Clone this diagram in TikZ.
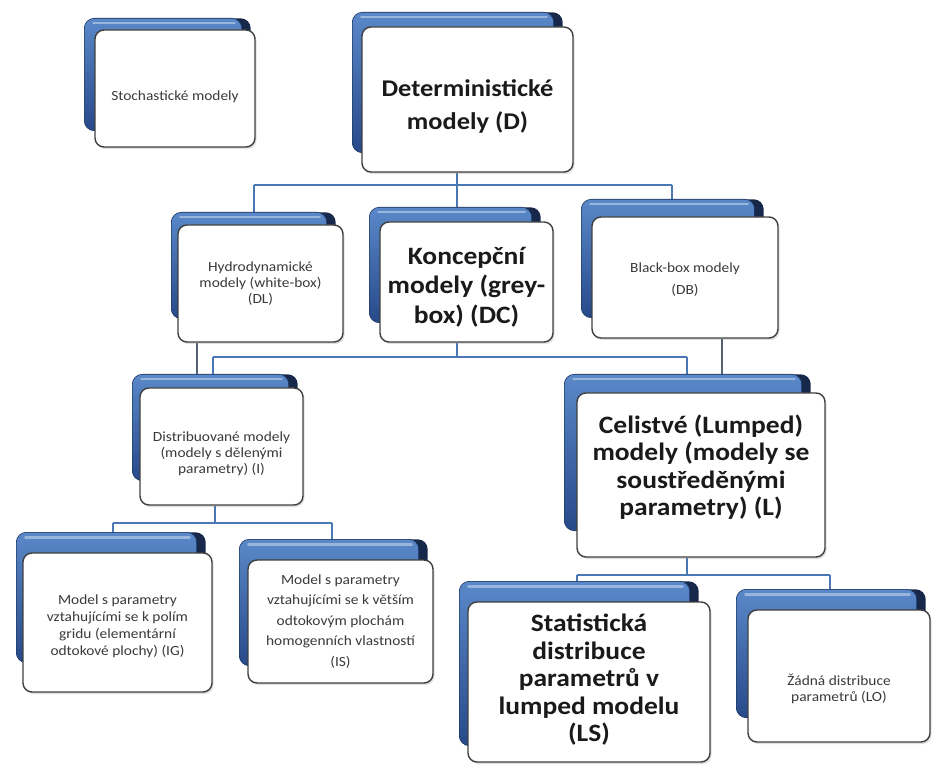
\documentclass[tikz,border=0pt]{standalone}
\usepackage{fontspec}
\setmainfont{Carlito}[FakeStretch=1.1]
\usetikzlibrary{shadows}

\pgfdeclarelayer{wires}
\pgfdeclarelayer{panels}
\pgfsetlayers{wires,panels,main}

\definecolor{panelhi}{HTML}{5A88C8}
\definecolor{panello}{HTML}{27498A}
\definecolor{paneldark}{HTML}{17284A}
\definecolor{paneledge}{HTML}{1E3A66}
\definecolor{wire}{HTML}{4A78B5}
\definecolor{wiregray}{HTML}{566272}
\definecolor{frameline}{HTML}{3F3F3F}
\definecolor{smalltext}{HTML}{3A3A3A}
\definecolor{bigtext}{HTML}{1A1A1A}

\tikzset{
  card/.style={draw=frameline, line width=1.4pt, fill=white, rounded corners=9pt,
    inner sep=0pt,
    drop shadow={shadow xshift=1.5pt, shadow yshift=-2pt, opacity=0.25}},
  small/.style={align=center, inner sep=0pt, font=\fontsize{14}{16}\selectfont, text=smalltext},
  big/.style={align=center, inner sep=0pt, font=\fontsize{25}{27.5}\selectfont\bfseries, text=bigtext},
  backdark/.style={fill=paneldark, rounded corners=10pt},
  backpanel/.style={draw=paneledge, line width=0.6pt, top color=panelhi,
    bottom color=panello, rounded corners=10pt},
  gleam/.style={draw=white!45!panelhi, line width=2.4pt, line cap=round, opacity=0.85},
  wireline/.style={draw=wire, line width=2pt},
  crossline/.style={draw=wiregray, line width=1.8pt},
}

% blue panel peeking out behind a card: #1 card, #2/#3 offset of the top-left
% corner, #4/#5 offset of the bottom-right corner
\newcommand{\cardback}[5]{%
  \begin{pgfonlayer}{panels}
    \fill[backdark] ([shift={(#2,#3)}]#1.north west) rectangle ([shift={(#4,#5)}]#1.south east);
    \draw[backpanel] ([shift={(#2,#3)}]#1.north west) rectangle ([shift={(#4-9,#5)}]#1.south east);
    \draw[gleam] ([shift={(#2+9,#3-5)}]#1.north west) -- ([shift={(#4-16,#3-5)}]#1.north east);
  \end{pgfonlayer}}

\begin{document}
\begin{tikzpicture}[x=1pt,y=1pt]
\begin{pgfonlayer}{wires}
  \fill[white] (0,0) rectangle (933,769);
\end{pgfonlayer}
\useasboundingbox (0,0) rectangle (933,769);

% white cards
\node[card, minimum width=160pt, minimum height=117pt] (S)  at (175,680.5) {};
\node[card, minimum width=211pt, minimum height=145pt] (D)  at (467.5,669.5) {};
\node[card, minimum width=165pt, minimum height=117pt] (DL) at (260.5,485.5) {};
\node[card, minimum width=173pt, minimum height=120pt] (DC) at (466.5,487) {};
\node[card, minimum width=186pt, minimum height=121pt] (DB) at (685,491.5) {};
\node[card, minimum width=163pt, minimum height=117pt] (I)  at (221.5,322.5) {};
\node[card, minimum width=248pt, minimum height=164pt] (L)  at (701,294) {};
\node[card, minimum width=189pt, minimum height=139pt] (IG) at (117.5,146.5) {};
\node[card, minimum width=185pt, minimum height=123pt] (IS) at (340.5,147.5) {};
\node[card, minimum width=242pt, minimum height=160pt] (LS) at (589,87) {};
\node[card, minimum width=182pt, minimum height=132pt] (LO) at (839,93) {};

% card texts
\node[small] (S-t) at ([yshift=-8pt]S.center) {Stochastické modely};
\node[big, font=\fontsize{24}{33}\selectfont\bfseries] (D-t) at ([yshift=-7pt]D.center) {Deterministické\\modely (D)};
\node[small] (DL-t) at ([yshift=0pt]DL.center) {Hydrodynamické\\modely (white-box)\\(DL)};
\node[big, font=\fontsize{25}{29.5}\selectfont\bfseries] (DC-t) at ([yshift=-5pt]DC.center) {Koncepční\\modely (grey-\\box) (DC)};
\node[small, font=\fontsize{14}{22}\selectfont] (DB-t) at ([yshift=-2pt]DB.center) {Black-box modely\\(DB)};
\node[small] (I-t) at ([yshift=-7pt]I.center) {Distribuované modely\\(modely s dělenými\\parametry) (I)};
\node[big] (L-t) at ([yshift=8pt]L.center) {Celistvé (Lumped)\\modely (modely se\\soustředěnými\\parametry) (L)};
\node[small, font=\fontsize{14}{17}\selectfont] (IG-t) at ([yshift=-4pt]IG.center) {Model s parametry\\vztahujícími se k polím\\gridu (elementární\\odtokové plochy) (IG)};
\node[small, font=\fontsize{14}{20.5}\selectfont] (IS-t) at ([yshift=0pt]IS.center) {Model s parametry\\vztahujícími se k větším\\odtokovým plochám\\homogenních vlastností\\(IS)};
\node[big] (LS-t) at ([yshift=2pt]LS.center) {Statistická\\distribuce\\parametrů v\\lumped modelu\\(LS)};
\node[small] (LO-t) at ([yshift=-13pt]LO.center) {Žádná distribuce\\parametrů (LO)};

% panels behind the cards
\cardback{S}{-10}{11}{-5}{17}
\cardback{D}{-9}{14}{-11}{20}
\cardback{DL}{-6}{12}{-8}{24}
\cardback{DC}{-10}{14}{-13}{20}
\cardback{DB}{-10}{17}{-15}{21}
\cardback{I}{-7}{13}{-6}{25}
\cardback{L}{-12}{18}{-15}{27}
\cardback{IG}{-6}{20}{-7}{30}
\cardback{IS}{-8}{20}{-6}{18}
\cardback{LS}{-8}{20}{-12}{17}
\cardback{LO}{-11}{20}{-5}{25}

% connectors
\begin{pgfonlayer}{wires}
  \coordinate (t1) at (254,584);
  \coordinate (t2) at (457,584);
  \coordinate (t3) at (672,584);
  \draw[wireline] (D.south -| t2) -- (t2);
  \draw[wireline] (t1) -- (t3);
  \draw[wireline] (t1) -- (t1 |- DL.north);
  \draw[wireline] (t2) -- (t2 |- DC.north);
  \draw[wireline] (t3) -- (t3 |- DB.north);

  \coordinate (m1) at (213,412);
  \coordinate (m2) at (457,412);
  \coordinate (m3) at (687,412);
  \draw[wireline] (DC.south -| m2) -- (m2);
  \draw[wireline] (m1) -- (m3);
  \draw[wireline] (m1) -- (m1 |- I.north);
  \draw[wireline] (m3) -- (m3 |- L.north);

  \coordinate (x1) at (197,412);
  \coordinate (x2) at (722,412);
  \draw[crossline] (DL.south -| x1) -- (x1 |- I.north);
  \draw[crossline] (DB.south -| x2) -- (x2 |- L.north);

  \coordinate (p1) at (113,246);
  \coordinate (p2) at (215,246);
  \coordinate (p3) at (332,246);
  \draw[wireline] (I.south -| p2) -- (p2);
  \draw[wireline] (p1) -- (p3);
  \draw[wireline] (p1) -- (p1 |- IG.north);
  \draw[wireline] (p3) -- (p3 |- IS.north);

  \coordinate (q1) at (577,194);
  \coordinate (q2) at (687,194);
  \coordinate (q3) at (830,194);
  \draw[wireline] (L.south -| q2) -- (q2);
  \draw[wireline] (q1) -- (q3);
  \draw[wireline] (q1) -- (q1 |- LS.north);
  \draw[wireline] (q3) -- (q3 |- LO.north);
\end{pgfonlayer}
\end{tikzpicture}
\end{document}
